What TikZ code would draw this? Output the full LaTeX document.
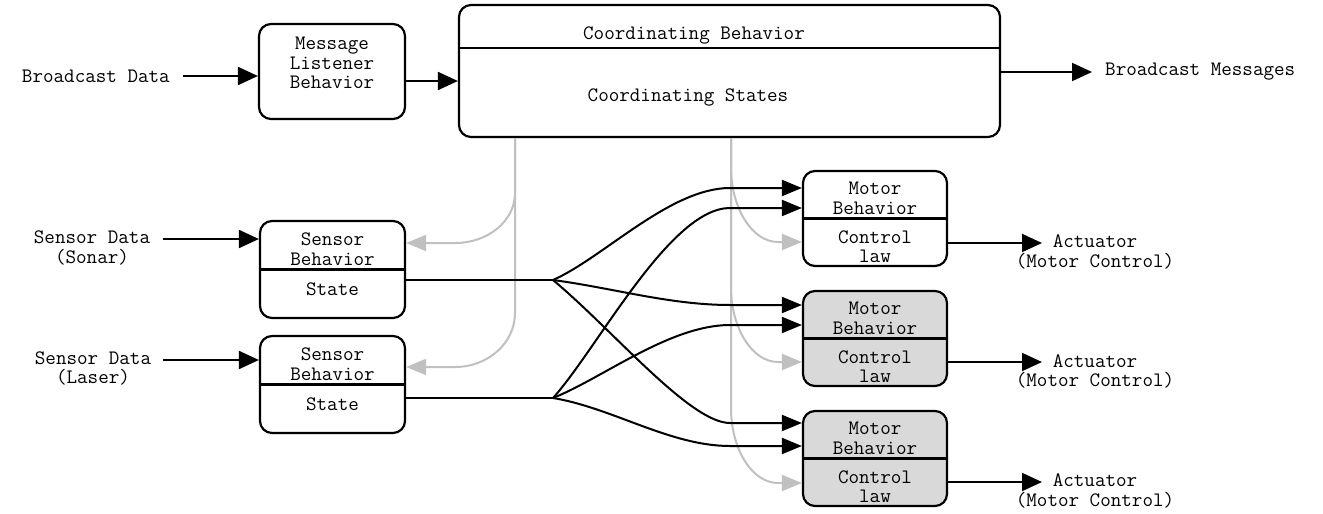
\documentclass[tikz,border=0pt]{standalone}
\usepackage{fontspec}
\usetikzlibrary{arrows.meta}
\definecolor{linegray}{RGB}{192,192,192}
\definecolor{boxfill}{RGB}{217,217,217}
\begin{document}
\begin{tikzpicture}[x=1pt,y=-1pt,
  txt/.style={font=\ttfamily\fontsize{20.5}{19.5}\selectfont, align=center, inner sep=0pt},
  box/.style={draw, line width=2.2pt, rounded corners=12pt, inner sep=0pt, fill=white},
  divider/.style={line width=2.2pt},
  arr/.style={line width=2pt, -{Triangle[length=20pt,width=18pt]}},
  marr/.style={line width=2pt, -{Triangle[length=20pt,width=16pt]}},
  garr/.style={draw=linegray, line width=2pt, -{Triangle[length=20pt,width=16pt]}},
  bline/.style={line width=2pt}]
\useasboundingbox (0,0) rectangle (1323,514);

% ---- top row -------------------------------------------------------
\node[box, minimum width=146pt, minimum height=95pt] (ml) at (332,71.5) {};
\node[txt] (mlt) at (332,63) {Message\\Listener\\Behavior};

\node[box, minimum width=541pt, minimum height=132pt] (cb) at (729.5,71) {};
\draw[divider] (cb.west |- 0,48) -- (cb.east |- 0,48);
\node[txt] (cbt) at (694,35) {Coordinating Behavior};
\node[txt] (cbs) at (688,97) {Coordinating States};

\node[txt, anchor=east] (bd) at (170,76) {Broadcast Data};
\node[txt, anchor=west] (bm) at (1105,72) {Broadcast Messages};

% ---- sensor behaviours ----------------------------------------------
\node[box, minimum width=145pt, minimum height=97pt] (s1) at (332.5,269.5) {};
\draw[divider] (s1.west) -- (s1.east);
\node[txt] (s1t) at (332.5,249) {Sensor\\Behavior};
\node[txt] (s1s) at (332.5,289) {State};

\node[box, minimum width=145pt, minimum height=97pt] (s2) at (332.5,384.5) {};
\draw[divider] (s2.west) -- (s2.east);
\node[txt] (s2t) at (332.5,364) {Sensor\\Behavior};
\node[txt] (s2s) at (332.5,404) {State};

\node[txt] (sd1) at (92,248) {Sensor Data\\(Sonar)};
\node[txt] (sd2) at (93,368.5) {Sensor Data\\(Laser)};

% ---- motor behaviours -----------------------------------------------
\node[box, minimum width=144pt, minimum height=95pt] (m1) at (875,218.5) {};
\node[box, fill=boxfill, minimum width=144pt, minimum height=95pt] (m2) at (875,338.5) {};
\node[box, fill=boxfill, minimum width=144pt, minimum height=95pt] (m3) at (875,458.5) {};
\foreach \m in {m1,m2,m3}{
  \draw[divider] (\m.west) -- (\m.east);
  \node[txt] at ([yshift=20pt]\m.center) {Motor\\Behavior};
  \node[txt] at ([yshift=-28pt]\m.center) {Control\\law};
}

\node[txt] (ac1) at (1095,252) {Actuator\\(Motor Control)};
\node[txt] (ac2) at (1095,371.5) {Actuator\\(Motor Control)};
\node[txt] (ac3) at (1095,491) {Actuator\\(Motor Control)};

% ---- free ends and fan-out points ------------------------------------
\coordinate (sd1o) at (163,239);
\coordinate (sd2o) at (163,360);
\coordinate (a1) at (1042,243);
\coordinate (a2) at (1042,362);
\coordinate (a3) at (1042,482);
\coordinate (j1) at (553,280);
\coordinate (j2) at (553,398);

% ---- gray state feedback ---------------------------------------------
\draw[garr] (cb.south -| 515,0) -- (515,193) .. controls (515,221) and (488,243) .. (455,243) -- (s1.east |- 0,243);
\draw[garr] (cb.south -| 515,0) -- (515,313) .. controls (515,343) and (488,367) .. (455,367) -- (s2.east |- 0,367);
\draw[garr] (cb.south -| 731,0) -- (731,167) .. controls (731,208) and (752,242) .. (778,242) -- (m1.west |- 0,242);
\draw[garr] (cb.south -| 731,0) -- (731,287) .. controls (731,328) and (752,362) .. (778,362) -- (m2.west |- 0,362);
\draw[garr] (cb.south -| 731,0) -- (731,408) .. controls (731,449) and (752,483) .. (778,483) -- (m3.west |- 0,483);

% ---- black data flow -------------------------------------------------
\draw[arr] ([xshift=13pt]bd.east) -- (ml.west |- bd.east);
\draw[arr] (ml.east |- 0,81) -- (cb.west |- 0,81);
\draw[arr] (cb.east |- bm.west) -- ([xshift=-13pt]bm.west);
\draw[arr] (sd1o) -- (s1.west |- sd1o);
\draw[arr] (sd2o) -- (s2.west |- sd2o);
\draw[arr] (m1.east |- a1) -- (a1);
\draw[arr] (m2.east |- a2) -- (a2);
\draw[arr] (m3.east |- a3) -- (a3);

\draw[bline] (s1.east |- j1) -- (j1);
\draw[bline] (s2.east |- j2) -- (j2);
\draw[marr] (j1) .. controls (603,258) and (670,188) .. (730,188) -- (m1.west |- 0,188);
\draw[marr] (j1) .. controls (613,288) and (670,305) .. (730,305) -- (m2.west |- 0,305);
\draw[marr] (j1) .. controls (613,330) and (690,423) .. (730,423) -- (m3.west |- 0,423);
\draw[marr] (j2) .. controls (598,348) and (670,208) .. (730,208) -- (m1.west |- 0,208);
\draw[marr] (j2) .. controls (603,378) and (670,325) .. (730,325) -- (m2.west |- 0,325);
\draw[marr] (j2) .. controls (613,408) and (670,446) .. (730,446) -- (m3.west |- 0,446);
\end{tikzpicture}
\end{document}
